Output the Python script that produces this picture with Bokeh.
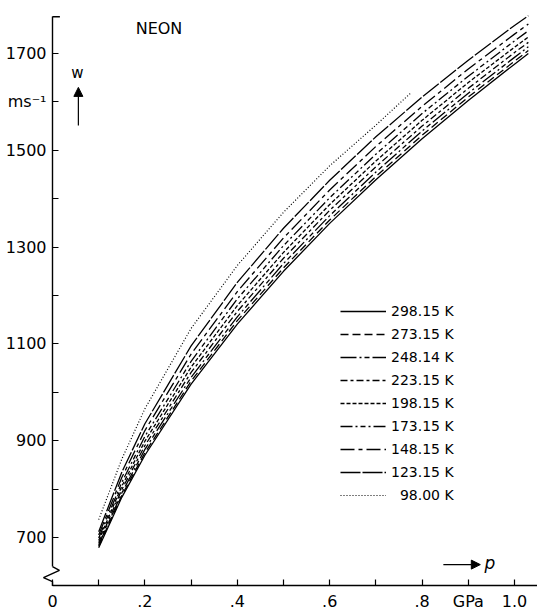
from bokeh.plotting import figure
from bokeh.models import (Range1d, LinearAxis, FixedTicker, Legend, LegendItem,
                          Arrow, NormalHead, Label)
from bokeh.embed import file_html
from bokeh.resources import INLINE

# ---- data ----
pressure_gpa = [0.10, 0.15, 0.20, 0.30, 0.40, 0.50, 0.60, 0.70, 0.80, 0.90, 1.00, 1.03]
w_298_15 = [679, 783, 870, 1017, 1141, 1250, 1349, 1439, 1524, 1603, 1678, 1700]
w_273_15 = [682, 787, 875, 1023, 1148, 1257, 1356, 1446, 1531, 1610, 1684, 1706]
w_248_14 = [685, 792, 882, 1031, 1156, 1266, 1365, 1455, 1540, 1618, 1692, 1714]
w_223_15 = [689, 799, 890, 1041, 1167, 1277, 1376, 1466, 1550, 1628, 1702, 1723]
w_198_15 = [694, 806, 899, 1052, 1179, 1289, 1388, 1478, 1562, 1640, 1713, 1734]
w_173_15 = [699, 814, 909, 1064, 1193, 1303, 1402, 1492, 1576, 1653, 1726, 1747]
w_148_15 = [705, 824, 921, 1079, 1208, 1319, 1418, 1508, 1591, 1668, 1740, 1761]
w_123_15 = [712, 835, 935, 1096, 1227, 1339, 1438, 1528, 1610, 1686, 1758, 1778]
pressure_98 = [0.10, 0.15, 0.20, 0.30, 0.40, 0.50, 0.60, 0.70, 0.775]
w_98_00 = [737, 862, 966, 1132, 1262, 1372, 1468, 1552, 1618]

series_labels = ["298.15 K", "273.15 K", "248.14 K", "223.15 K", "198.15 K",
                 "173.15 K", "148.15 K", "123.15 K", "98.00 K"]

y_ticks = [700, 800, 900, 1000, 1100, 1200, 1300, 1400, 1500, 1600, 1700]
y_tick_labels = ["700", "", "900", "", "1100", "", "1300", "", "1500", "ms\u207b\u00b9", "1700"]
x_ticks = [0.0, 0.1, 0.2, 0.3, 0.4, 0.5, 0.6, 0.7, 0.8, 0.9, 1.0]
x_tick_labels = ["0", "", ".2", "", ".4", "", ".6", "", ".8", "GPa", "1.0"]

# ---- styles ----
dashes = ["solid", "8 4", "16 3 2 3 5 3", "7 3 3 3", "4 2", "12 3 2 3 5 3 2 3",
          "14 4 4 4", "20 2", "1 2"]
FONT = "DejaVu Sans"

p = figure(width=537, height=610, x_range=Range1d(-0.11255, 1.04978),
           y_range=Range1d(549.2, 1809.5), toolbar_location=None,
           output_backend="svg", x_axis_location=None, y_axis_location=None,
           min_border=0, outline_line_color=None)
p.grid.grid_line_color = None
p.background_fill_color = "white"

yaxis = LinearAxis(fixed_location=0, bounds=(640, 1776),
                   ticker=FixedTicker(ticks=y_ticks),
                   major_label_overrides=dict(zip(y_ticks, y_tick_labels)))
xaxis = LinearAxis(fixed_location=600, bounds=(0, 1.04978),
                   ticker=FixedTicker(ticks=x_ticks),
                   major_label_overrides=dict(zip(x_ticks, x_tick_labels)))
for ax in (yaxis, xaxis):
    ax.major_tick_in = 6
    ax.major_tick_out = 0
    ax.minor_tick_line_color = None
    ax.axis_line_width = 1.4
    ax.major_tick_line_width = 1.2
    ax.major_label_text_font = FONT
    ax.major_label_text_font_size = "16px"
    ax.major_label_text_color = "black"
    ax.major_label_standoff = 6
p.add_layout(yaxis, "left")
p.add_layout(xaxis, "below")

# axis break and top end mark
p.line(x=[0, 0.015, -0.0195, 0, 0], y=[640, 632, 617, 609, 600],
       line_color="black", line_width=1.4)
p.line(x=[0, 0.016], y=[1776, 1776], line_color="black", line_width=1.4)

curves = [w_298_15, w_273_15, w_248_14, w_223_15, w_198_15, w_173_15, w_148_15, w_123_15]
items = []
for i, ys in enumerate(curves):
    r = p.line(x=pressure_gpa, y=ys, line_color="black", line_width=1.3,
               line_dash=dashes[i])
    items.append(LegendItem(label=series_labels[i], renderers=[r]))
r98 = p.line(x=pressure_98, y=w_98_00, line_color="black", line_width=1.2,
             line_dash=dashes[8])
items.append(LegendItem(label="\u2007" + series_labels[8], renderers=[r98]))

legend = Legend(items=items, location=(340, 107), glyph_width=46, glyph_height=16,
                label_height=16, spacing=7, padding=0, margin=0, label_standoff=5,
                border_line_color=None, background_fill_alpha=0,
                label_text_font=FONT, label_text_font_size="14px",
                label_text_color="black")
p.add_layout(legend)

p.add_layout(Label(x=0.18, y=1752, text="NEON", text_font=FONT,
                   text_font_size="16px", text_baseline="middle", text_color="black"))
p.add_layout(Label(x=0.054, y=1659, text="w", text_font=FONT, text_align="center",
                   text_font_size="15px", text_baseline="middle", text_color="black"))
p.add_layout(Arrow(x_start=0.056, y_start=1551, x_end=0.056, y_end=1630,
                   line_width=1.2, end=NormalHead(size=9, fill_color="black",
                                                  line_color="black")))
p.add_layout(Arrow(x_start=0.846, y_start=644, x_end=0.926, y_end=644,
                   line_width=1.2, end=NormalHead(size=9, fill_color="black",
                                                  line_color="black")))
p.add_layout(Label(x=0.935, y=648, text="p", text_font=FONT, text_font_style="italic",
                   text_font_size="17px", text_baseline="middle", text_color="black"))

open("out.html", "w").write(file_html(p, INLINE))
